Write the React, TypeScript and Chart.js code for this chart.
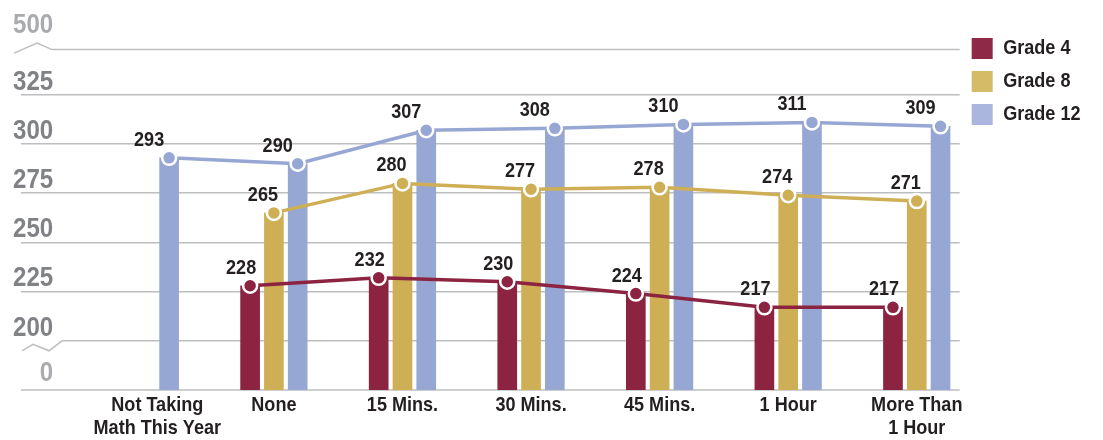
import React, { useEffect, useRef } from "react";
import { Chart, registerables } from "chart.js";

Chart.register(...registerables);

// ---------- data ----------
const categories: (string | string[])[] = [
  ["Not Taking", "Math This Year"],
  "None",
  "15 Mins.",
  "30 Mins.",
  "45 Mins.",
  "1 Hour",
  ["More Than", "1 Hour"],
];
const seriesNames = ["Grade 4", "Grade 8", "Grade 12"];
const grade4: (number | null)[] = [null, 228, 232, 230, 224, 217, 217];
const grade8: (number | null)[] = [null, 265, 280, 277, 278, 274, 271];
const grade12: (number | null)[] = [293, 290, 307, 308, 310, 311, 309];
// broken axis: "0" and "500" labels sit at compressed positions
const yTickLabels = ["0", "200", "225", "250", "275", "300", "325", "500"];

// ---------- styling ----------
const FONT = "'Liberation Sans', Arial, sans-serif";
const SX = 0.86; // horizontal condensing of all text (condensed-type look)
const TEXT = "#231F20";
const GRID = "#BDBEC0";
const AXIS_DARK = "#808285";
const AXIS_LIGHT = "#A9ABAE";

const series = [
  { name: seriesNames[0], values: grade4, color: "#8B2341", legend: "#8E2A48", slot: -1, labelDx: -9 },
  { name: seriesNames[1], values: grade8, color: "#CFAF55", legend: "#D5BB68", slot: 0, labelDx: -11 },
  { name: seriesNames[2], values: grade12, color: "#97A7D3", legend: "#AAB6DD", slot: 1, labelDx: -20 },
];
const SLOT = 0.185; // bar offset within a category (category units)

// scale positions for the broken axis
const Y_MIN = 175;
const Y_MAX = 360;
const Y_TICK_POS = [177, 200, 225, 250, 275, 300, 325, 354];
const Y_BREAK_LOW = 200;
const Y_TOP_LINE = 348;

const pts = (s: typeof series[number]) =>
  s.values
    .map((v, i) => (v == null ? null : { x: i + s.slot * SLOT, y: v }))
    .filter((p) => p !== null) as { x: number; y: number }[];

function condense(ctx: any) {
  const fill = ctx.fillText.bind(ctx);
  const measure = ctx.measureText.bind(ctx);
  ctx.fillText = (text: string, x: number, y: number, maxWidth?: number) => {
    ctx.save();
    ctx.translate(x, y);
    ctx.scale(SX, 1);
    if (maxWidth !== undefined && maxWidth !== null) fill(text, 0, 0, maxWidth / SX);
    else fill(text, 0, 0);
    ctx.restore();
  };
  ctx.measureText = (text: string) => {
    const m = measure(text);
    return {
      width: m.width * SX,
      actualBoundingBoxAscent: m.actualBoundingBoxAscent,
      actualBoundingBoxDescent: m.actualBoundingBoxDescent,
      actualBoundingBoxLeft: m.actualBoundingBoxLeft * SX,
      actualBoundingBoxRight: m.actualBoundingBoxRight * SX,
      fontBoundingBoxAscent: m.fontBoundingBoxAscent,
      fontBoundingBoxDescent: m.fontBoundingBoxDescent,
    };
  };
}

const breakPlugin = {
  id: "axisBreaks",
  beforeDatasetsDraw(chart: any) {
    const { ctx, chartArea, scales } = chart;
    const y = scales.y;
    const L = chartArea.left;
    const R = chartArea.right;
    ctx.save();
    ctx.strokeStyle = GRID;
    ctx.lineWidth = 1.5;
    // bottom "0" line
    const gb = y.getPixelForValue(Y_MIN);
    ctx.beginPath();
    ctx.moveTo(L, gb);
    ctx.lineTo(R, gb);
    ctx.stroke();
    // 200 line with break mark
    const g2 = y.getPixelForValue(Y_BREAK_LOW);
    ctx.beginPath();
    ctx.moveTo(L + 1, g2 + 10);
    ctx.lineTo(L + 12, g2 + 3.5);
    ctx.lineTo(L + 28, g2 + 10);
    ctx.lineTo(L + 41, g2);
    ctx.lineTo(R, g2);
    ctx.stroke();
    // 500 line with break mark
    const g5 = y.getPixelForValue(Y_TOP_LINE);
    ctx.beginPath();
    ctx.moveTo(L - 7, g5 + 3.5);
    ctx.lineTo(L + 16, g5 - 6.5);
    ctx.lineTo(L + 31, g5);
    ctx.lineTo(R, g5);
    ctx.stroke();
    ctx.restore();
  },
};

const labelPlugin = {
  id: "pointLabels",
  afterDatasetsDraw(chart: any) {
    const { ctx } = chart;
    ctx.save();
    ctx.font = `bold 21px ${FONT}`;
    ctx.fillStyle = TEXT;
    ctx.textAlign = "center";
    ctx.textBaseline = "alphabetic";
    chart.data.datasets.forEach((ds: any, di: number) => {
      if (ds.type !== "line") return;
      const s = series[ds.seriesIndex];
      const meta = chart.getDatasetMeta(di);
      meta.data.forEach((el: any, j: number) => {
        ctx.fillText(String(ds.data[j].y), el.x + s.labelDx, el.y - 12);
      });
    });
    ctx.restore();
  },
};

export default function App() {
  const ref = useRef<HTMLCanvasElement | null>(null);

  useEffect(() => {
    if (!ref.current) return;
    condense(ref.current.getContext("2d"));

    const bars = series.map((s, k) => ({
      type: "bar" as const,
      label: s.name,
      seriesIndex: k,
      data: pts(s),
      backgroundColor: s.color,
      borderWidth: 0,
      barThickness: 19,
      grouped: false,
      order: 2,
    }));
    const lines = series.map((s, k) => ({
      type: "line" as const,
      label: s.name + " line",
      seriesIndex: k,
      data: pts(s),
      borderColor: s.color,
      borderWidth: 3.5,
      pointRadius: 7,
      pointBackgroundColor: s.color,
      pointBorderColor: "#FFFFFF",
      pointBorderWidth: 2.5,
      tension: 0,
      order: 1,
    }));

    const chart = new Chart(ref.current, {
      type: "bar",
      data: { datasets: [...bars, ...lines] as any },
      options: {
        animation: false,
        responsive: true,
        maintainAspectRatio: false,
        events: [],
        layout: { padding: { left: 13, right: 4.5, top: 18, bottom: 0 } },
        plugins: {
          tooltip: { enabled: false },
          legend: {
            position: "right",
            align: "start",
            labels: {
              boxWidth: 21,
              boxHeight: 21,
              padding: 12,
              color: TEXT,
              font: { family: FONT, size: 21, weight: "bold" },
              generateLabels: () =>
                series.map((s, k) => ({
                  text: s.name,
                  fillStyle: s.legend,
                  strokeStyle: s.legend,
                  lineWidth: 0,
                  hidden: false,
                  datasetIndex: k,
                  fontColor: TEXT,
                })),
            },
          },
        },
        scales: {
          x: {
            type: "linear",
            offset: false,
            min: -0.967,
            max: 6.334,
            afterBuildTicks: (scale: any) => {
              scale.ticks = categories.map((_, i) => ({ value: i === 0 ? 0.093 : i }));
            },
            afterFit: (scale: any) => {
              scale.height = 50;
            },
            grid: { display: false, drawTicks: false },
            border: { display: false },
            ticks: {
              autoSkip: false,
              maxRotation: 0,
              minRotation: 0,
              padding: 4,
              color: TEXT,
              font: { family: FONT, size: 21, weight: "bold", lineHeight: 1.1 },
              callback: (_v: any, index: number) => categories[index],
            },
          },
          y: {
            type: "linear",
            min: Y_MIN,
            max: Y_MAX,
            afterBuildTicks: (scale: any) => {
              scale.ticks = Y_TICK_POS.map((v) => ({ value: v }));
            },
            afterFit: (scale: any) => {
              scale.width = 0;
            },
            grid: {
              drawTicks: false,
              lineWidth: 1.5,
              color: (c: any) => (c.index >= 2 && c.index <= 6 ? GRID : "rgba(0,0,0,0)"),
            },
            border: { display: false },
            ticks: {
              autoSkip: false,
              mirror: true,
              crossAlign: "far",
              padding: -8,
              labelOffset: -13,
              font: { family: FONT, size: 28, weight: "bold" },
              color: (c: any) => (c.index === 0 || c.index === 7 ? AXIS_LIGHT : AXIS_DARK),
              callback: (_v: any, index: number) => yTickLabels[index],
            },
          },
        },
      },
      plugins: [breakPlugin, labelPlugin],
    } as any);

    return () => chart.destroy();
  }, []);

  return (
    <div style={{ position: "absolute", left: 8, top: 8, width: 1087, height: 432 }}>
      <canvas ref={ref} />
    </div>
  );
}
